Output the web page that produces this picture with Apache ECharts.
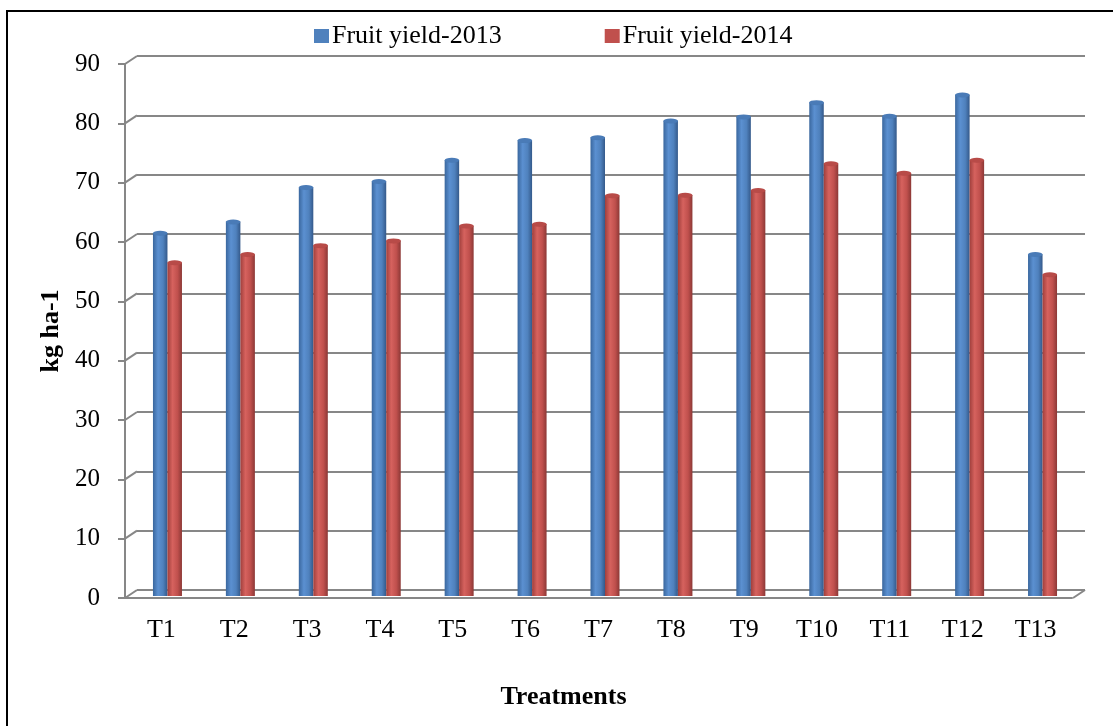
<!DOCTYPE html>
<html>
<head>
<meta charset="utf-8">
<script src="https://cdn.jsdelivr.net/npm/echarts@6/dist/echarts.min.js"></script>
<style>
html,body{margin:0;padding:0;background:#fff;}
#chart{width:1113px;height:726px;}
</style>
</head>
<body>
<div id="chart"></div>
<script>
const categories = ['T1','T2','T3','T4','T5','T6','T7','T8','T9','T10','T11','T12','T13'];
const yield2013 = [61.2, 63.1, 68.9, 69.9, 73.5, 76.8, 77.3, 80.1, 80.8, 83.2, 80.9, 84.5, 57.6];
const yield2014 = [56.2, 57.6, 59.1, 59.9, 62.4, 62.7, 67.5, 67.6, 68.4, 72.9, 71.3, 73.5, 54.2];
const yTicks = [0, 10, 20, 30, 40, 50, 60, 70, 80, 90];
const seriesNames = ['Fruit yield-2013', 'Fruit yield-2014'];

const FONT = 'Liberation Serif';
const GRID_COLOR = '#878787';

function cyl(dark, light, mid, edge) {
  return new echarts.graphic.LinearGradient(0, 0, 1, 0, [
    {offset: 0, color: dark},
    {offset: 0.35, color: light},
    {offset: 0.7, color: mid},
    {offset: 1, color: edge}
  ]);
}

// connectors: diagonal from front axis tick to back wall gridline
const connectorData = yTicks.map(v => [0, v]).concat([[categories.length, 0]]);

const chart = echarts.init(document.getElementById('chart'), null, {renderer: 'canvas'});
chart.setOption({
  backgroundColor: '#fff',
  animation: false,
  textStyle: {fontFamily: FONT},
  graphic: [{
    type: 'rect', silent: true,
    shape: {x: 7, y: 11, width: 1200, height: 800},
    style: {fill: null, stroke: '#000', lineWidth: 2}
  }],
  legend: {
    left: 314, top: 23, padding: 0,
    itemWidth: 15, itemHeight: 14, itemGap: 103,
    icon: 'rect',
    textStyle: {fontFamily: FONT, fontSize: 26, color: '#000', padding: [0,0,0,-2]},
    data: [
      {name: seriesNames[0], itemStyle: {color: '#4F81BD'}},
      {name: seriesNames[1], itemStyle: {color: '#C0504D'}}
    ]
  },
  grid: [
    {left: 137, top: 56, width: 948, height: 534},   // back wall
    {left: 125, top: 64, width: 947, height: 534},   // front axes
    {left: 131, top: 62, width: 948, height: 534}    // bars
  ],
  xAxis: [
    {gridIndex: 0, type: 'value', min: 0, max: categories.length, show: false},
    {gridIndex: 1, type: 'category', data: categories,
     axisLine: {show: true, lineStyle: {color: GRID_COLOR, width: 2}},
     axisTick: {show: false},
     axisLabel: {fontFamily: FONT, fontSize: 26, color: '#000', margin: 19},
     name: 'Treatments', nameLocation: 'middle', nameGap: 86,
     nameTextStyle: {fontFamily: FONT, fontSize: 26, fontWeight: 'bold', color: '#000', padding: [0, 70, 0, 0]}},
    {gridIndex: 2, type: 'category', data: categories, show: false}
  ],
  yAxis: [
    {gridIndex: 0, type: 'value', min: 0, max: 90, interval: 10,
     axisLine: {show: false}, axisTick: {show: false}, axisLabel: {show: false},
     splitLine: {show: true, lineStyle: {color: GRID_COLOR, width: 2}}},
    {gridIndex: 1, type: 'value', min: 0, max: 90, interval: 10,
     axisLine: {show: true, lineStyle: {color: GRID_COLOR, width: 2}},
     axisTick: {show: true, length: 7, lineStyle: {color: GRID_COLOR, width: 2}},
     axisLabel: {fontFamily: FONT, fontSize: 25, color: '#000', margin: 25},
     splitLine: {show: false},
     name: 'kg ha-1', nameLocation: 'middle', nameGap: 61,
     nameTextStyle: {fontFamily: FONT, fontSize: 26, fontWeight: 'bold', color: '#000'}},
    {gridIndex: 2, type: 'value', min: 0, max: 90, show: false, splitLine: {show: false}}
  ],
  series: [
    {
      type: 'custom', xAxisIndex: 0, yAxisIndex: 0, silent: true, z: 1,
      data: connectorData,
      renderItem: function (params, api) {
        const p = api.coord([api.value(0), api.value(1)]);
        return {type: 'line', shape: {x1: p[0] - 12, y1: p[1] + 8, x2: p[0], y2: p[1]},
                style: {stroke: GRID_COLOR, lineWidth: 2}};
      }
    },
    {
      name: seriesNames[0], type: 'bar', xAxisIndex: 2, yAxisIndex: 2, z: 3,
      barWidth: 14.5, barGap: '0%', data: yield2013,
      itemStyle: {color: cyl('#3a679e', '#5b90d1', '#4f81bd', '#34598a')}
    },
    {
      name: seriesNames[1], type: 'bar', xAxisIndex: 2, yAxisIndex: 2, z: 3,
      barWidth: 14.5, barGap: '0%', data: yield2014,
      itemStyle: {color: cyl('#a03f3c', '#d6625e', '#c0504d', '#8c3836')}
    },
    {
      name: 'cap2013', type: 'pictorialBar', xAxisIndex: 2, yAxisIndex: 2, z: 4,
      barWidth: 14.5, barGap: '0%', data: yield2013,
      symbol: 'circle', symbolSize: [14.5, 5], symbolPosition: 'end', symbolOffset: [0, '-50%'],
      itemStyle: {color: '#4a7bb7', borderColor: '#34598a', borderWidth: 1}
    },
    {
      name: 'cap2014', type: 'pictorialBar', xAxisIndex: 2, yAxisIndex: 2, z: 4,
      barWidth: 14.5, barGap: '0%', data: yield2014,
      symbol: 'circle', symbolSize: [14.5, 5], symbolPosition: 'end', symbolOffset: [0, '-50%'],
      itemStyle: {color: '#b84b48', borderColor: '#8c3836', borderWidth: 1}
    }
  ]
});
</script>
</body>
</html>
